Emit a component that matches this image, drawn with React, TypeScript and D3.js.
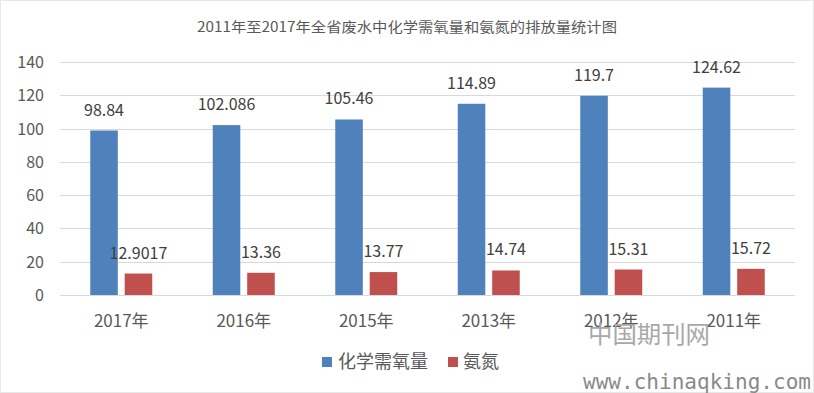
import React from 'react';
import * as d3 from 'd3';

// data
const years = ['2017年', '2016年', '2015年', '2013年', '2012年', '2011年'];
const codValues = [98.84, 102.086, 105.46, 114.89, 119.7, 124.62];
const nh3Values = [12.9017, 13.36, 13.77, 14.74, 15.31, 15.72];
const seriesNames = ['化学需氧量', '氨氮'];
const seriesColors = ['#4F81BD', '#C0504D'];
const yTicks = [0, 20, 40, 60, 80, 100, 120, 140];

const W = 814;
const H = 393;
const margin = { top: 62, right: 19, bottom: 98, left: 60 };
const font = '"Noto Sans CJK SC", "Noto Sans", sans-serif';

const App = () => {
  const x0 = d3.scaleBand<string>().domain(years).range([margin.left, W - margin.right]);
  const bw = x0.bandwidth();
  const x1 = d3
    .scaleBand<number>()
    .domain([0, 1])
    .range([bw / 2 - 31, bw / 2 + 31])
    .paddingInner(0.2);
  const y = d3.scaleLinear().domain([0, 140]).range([H - margin.bottom, margin.top]);

  const series = [codValues, nh3Values];

  return (
    <svg
      width={W}
      height={H}
      style={{ position: 'absolute', left: 0, top: 0, background: '#fff' }}
      fontFamily={font}
    >
      <rect x={0.5} y={0.5} width={W - 1} height={H - 1} fill="#fff" stroke="#d0d0d0" strokeDasharray="1 1" />

      <text
        x={407}
        y={32}
        textAnchor="middle"
        fontSize={14}
        fill="#595959"
        textLength={420}
        lengthAdjust="spacingAndGlyphs"
      >
        2011年至2017年全省废水中化学需氧量和氨氮的排放量统计图
      </text>

      {/* grid + y labels */}
      {yTicks.map((t) => (
        <g key={t}>
          <line
            x1={margin.left}
            x2={W - margin.right}
            y1={Math.round(y(t)) + 0.5}
            y2={Math.round(y(t)) + 0.5}
            stroke="#d9d9d9"
            strokeWidth={1}
          />
          <text x={44} y={y(t) + 6} textAnchor="end" fontSize={16} fill="#595959">
            {t}
          </text>
        </g>
      ))}

      {/* bars */}
      {series.map((vals, si) =>
        vals.map((v, i) => {
          const bx = (x0(years[i]) as number) + (x1(si) as number);
          return (
            <g key={`${si}-${i}`}>
              <rect x={bx} y={y(v)} width={x1.bandwidth()} height={y(0) - y(v)} fill={seriesColors[si]} />
              <text
                x={bx + x1.bandwidth() / 2}
                y={y(v) - 15}
                textAnchor="middle"
                fontSize={16}
                fill="#404040"
              >
                {String(v)}
              </text>
            </g>
          );
        })
      )}

      {/* x axis labels */}
      {years.map((yr) => (
        <text
          key={yr}
          x={(x0(yr) as number) + bw / 2}
          y={327}
          textAnchor="middle"
          fontSize={17}
          fill="#595959"
        >
          {yr}
        </text>
      ))}

      {/* legend */}
      <rect x={322} y={357} width={10} height={10} fill={seriesColors[0]} />
      <text x={338} y={368} fontSize={18} fill="#595959">
        {seriesNames[0]}
      </text>
      <rect x={448} y={357} width={10} height={10} fill={seriesColors[1]} />
      <text x={463} y={368} fontSize={18} fill="#595959">
        {seriesNames[1]}
      </text>

      {/* watermark */}
      <text
        x={588}
        y={343}
        fontSize={24}
        fill="#a8a8a8"
        fontFamily='"Noto Sans CJK SC", serif'
        textLength={122}
        lengthAdjust="spacingAndGlyphs"
      >
        中国期刊网
      </text>
      <text
        x={583}
        y={389}
        fontSize={21}
        fill="#8a8a8a"
        fontFamily='"DejaVu Sans Mono", monospace'
        textLength={228}
        lengthAdjust="spacingAndGlyphs"
      >
        www.chinaqking.com
      </text>
    </svg>
  );
};

export default App;
